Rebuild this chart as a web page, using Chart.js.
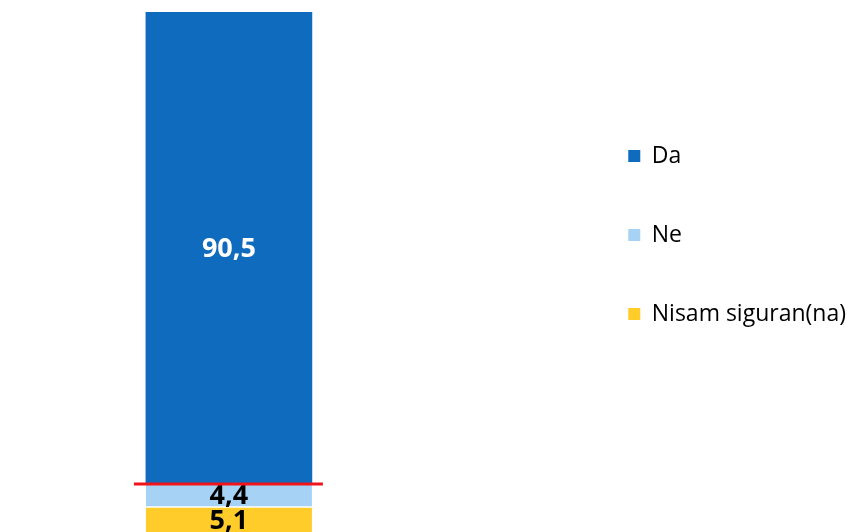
<!DOCTYPE html>
<html>
<head>
<meta charset="utf-8">
<script src="https://cdn.jsdelivr.net/npm/chart.js@4"></script>
<style>
  html, body { margin: 0; padding: 0; background: #fff; }
  #wrap { width: 856px; height: 532px; position: relative; }
</style>
</head>
<body>
<div id="wrap"><canvas id="c"></canvas></div>
<script>
const categories = [0];
const seriesNames = ['Nisam siguran(na)', 'Ne', 'Da'];
const nisamValues = [5.1];
const neValues = [4.4];
const daValues = [90.5];
const seriesColors = ['#FFCC29', '#A6D2F6', '#0E6BBE'];
const labelColors = ['#000000', '#000000', '#FFFFFF'];

const fmt = v => String(v).replace('.', ',');
const toPoints = vals => vals.map((v, i) => ({ x: categories[i], y: v }));

const valueLabels = {
  id: 'valueLabels',
  afterDatasetsDraw(chart) {
    const ctx = chart.ctx;
    ctx.save();
    ctx.font = 'bold 27px "Open Sans"';
    ctx.textAlign = 'center';
    ctx.textBaseline = 'middle';
    chart.data.datasets.forEach((ds, i) => {
      const meta = chart.getDatasetMeta(i);
      meta.data.forEach((el, j) => {
        const p = el.getCenterPoint();
        ctx.fillStyle = labelColors[i];
        ctx.fillText(fmt(ds.data[j].y), p.x, p.y + 1);
      });
    });
    ctx.restore();
  }
};

const redLine = {
  id: 'redLine',
  afterDatasetsDraw(chart) {
    const ctx = chart.ctx;
    const y = chart.scales.y.getPixelForValue(nisamValues[0] + neValues[0]);
    const el = chart.getDatasetMeta(1).data[0];
    const half = el.width / 2;
    ctx.save();
    ctx.strokeStyle = '#F0141B';
    ctx.lineWidth = 3;
    ctx.beginPath();
    ctx.moveTo(el.x - half - 12, y);
    ctx.lineTo(el.x + half + 11, y);
    ctx.stroke();
    ctx.restore();
  }
};

new Chart(document.getElementById('c'), {
  type: 'bar',
  data: {
    datasets: [
      { label: seriesNames[0], data: toPoints(nisamValues), backgroundColor: seriesColors[0], borderColor: '#ffffff', borderWidth: {top: 1, bottom: 0, left: 0, right: 0}, borderSkipped: false },
      { label: seriesNames[1], data: toPoints(neValues), backgroundColor: seriesColors[1], borderColor: '#ffffff', borderWidth: {top: 0, bottom: 1, left: 0, right: 0}, borderSkipped: false },
      { label: seriesNames[2], data: toPoints(daValues), backgroundColor: seriesColors[2], borderWidth: 0 }
    ]
  },
  options: {
    responsive: true,
    maintainAspectRatio: false,
    animation: false,
    layout: { padding: { top: 12, bottom: 0, left: 0, right: 0 } },
    datasets: { bar: { barThickness: 166 } },
    scales: {
      x: { type: 'linear', stacked: true, display: false, offset: false, grid: { offset: false }, min: -2, max: 3 },
      y: { stacked: true, min: 0.3, max: 100, display: false }
    },
    plugins: {
      tooltip: { enabled: false },
      legend: {
        position: 'right',
        align: 'start',
        reverse: true,
        title: { display: true, text: ' ', color: 'rgba(0,0,0,0)', font: { size: 12, lineHeight: 1 }, padding: { top: 64.5, bottom: 0 } },
        labels: {
          boxWidth: 12,
          boxHeight: 12,
          padding: 56,
          color: '#000000',
          font: { family: '"Open Sans"', size: 23 },
          generateLabels(chart) {
            const items = Chart.defaults.plugins.legend.labels.generateLabels(chart);
            items.forEach(it => { it.lineWidth = 0; it.strokeStyle = 'rgba(0,0,0,0)'; });
            return items;
          }
        }
      }
    }
  },
  plugins: [valueLabels, redLine]
});
</script>
</body>
</html>
